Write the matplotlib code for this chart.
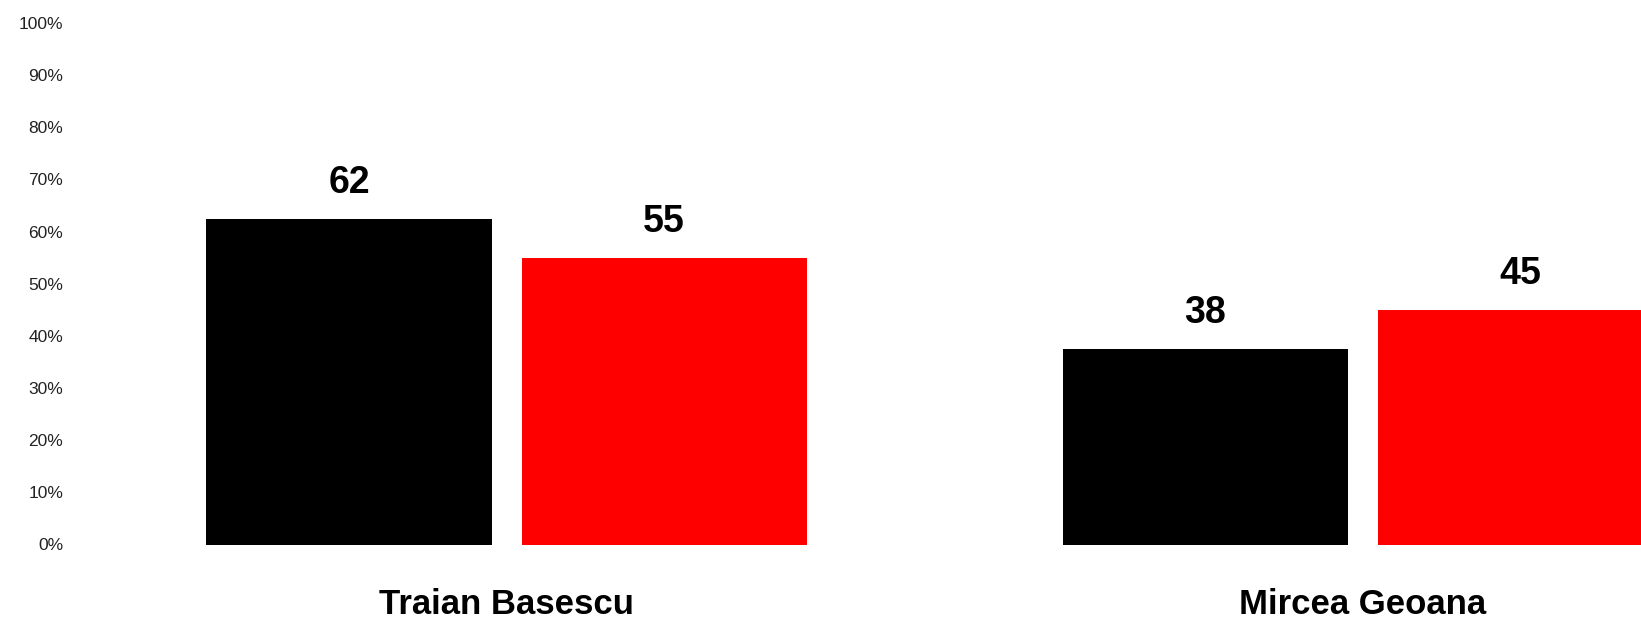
import numpy as np
import matplotlib.pyplot as plt

# data
candidates = ['Traian Basescu', 'Mircea Geoana']
round1 = [62.4, 37.4]          # black bars
round2 = [55.0, 45.0]          # red bars
round1_labels = ['62', '38']
round2_labels = ['55', '45']
yticks = np.arange(0, 101, 10)

plt.rcParams['font.family'] = ['Liberation Sans', 'DejaVu Sans']

fig = plt.figure(figsize=(16.41, 6.19), dpi=100)
ax = fig.add_axes([75 / 1641, 74.5 / 619, 1 - 75 / 1641, 521.5 / 619])

x = np.arange(len(candidates))
w = 0.333
off = 0.184
b1 = ax.bar(x - off, round1, w, color='black')
b2 = ax.bar(x + off, round2, w, color='#ff0000')

for bars, labels in [(b1, round1_labels), (b2, round2_labels)]:
    for bar, lab in zip(bars, labels):
        ax.annotate(lab, (bar.get_x() + bar.get_width() / 2, bar.get_height()),
                    xytext=(0, 18.7), textcoords='offset points',
                    ha='center', va='baseline', fontsize=27, fontweight='bold')

ax.set_xlim(-0.504, 1.325)
ax.set_ylim(0, 100)
ax.set_yticks(yticks, [f'{v}%' for v in yticks])
ax.set_xticks(x, candidates)
ax.tick_params(axis='y', length=0, pad=8.6, labelsize=12.5, labelcolor='#222222')
ax.tick_params(axis='x', length=0, pad=31, labelsize=25)
for lab in ax.get_xticklabels():
    lab.set_fontweight('bold')
for s in ax.spines.values():
    s.set_visible(False)

fig.savefig('out.png', dpi=100)
